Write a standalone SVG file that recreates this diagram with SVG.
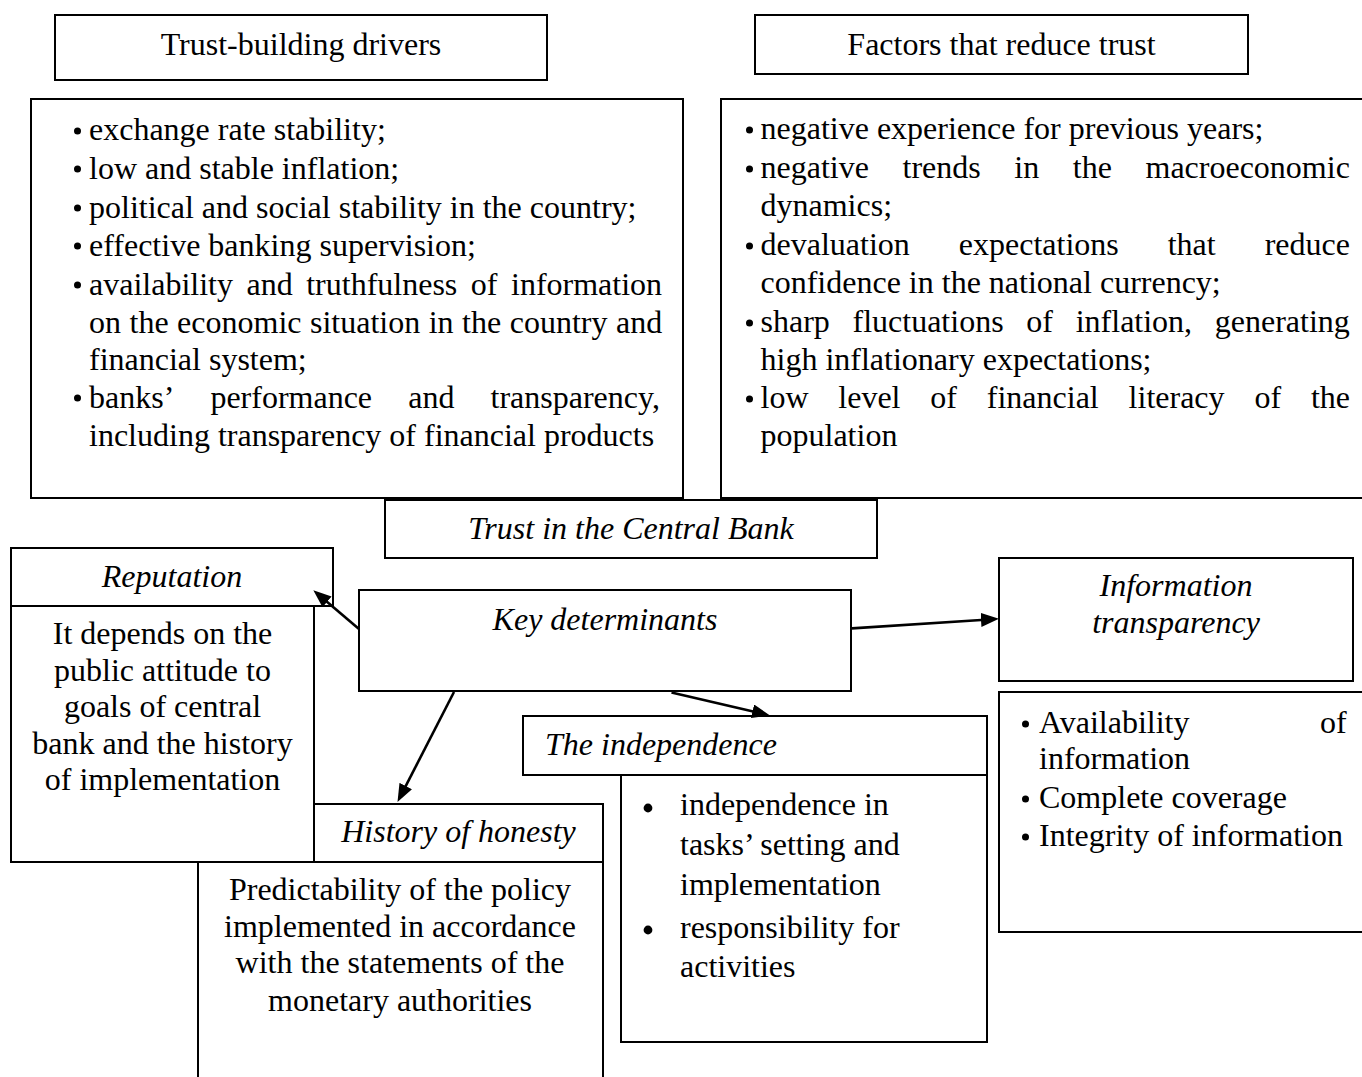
<svg xmlns="http://www.w3.org/2000/svg" width="1362" height="1077" viewBox="0 0 1362 1077">
  <style>
    .box { fill: #ffffff; stroke: #000000; stroke-width: 2; }
    .t { font-family: "Liberation Serif", "Times New Roman", serif; font-size: 32px; fill: #000000; }
    .i { font-style: italic; }
    .c { text-anchor: middle; }
    .b { fill: #000000; }
    .conn { stroke: #000000; stroke-width: 2.6; fill: none; marker-end: url(#arrow); }
  </style>
  <defs>
    <marker id="arrow" markerUnits="userSpaceOnUse" markerWidth="18" markerHeight="14" refX="4" refY="7" orient="auto">
      <path d="M0,0 L18,7 L0,14 z" fill="#000000"/>
    </marker>
  </defs>
  <rect x="0" y="0" width="1362" height="1077" fill="#ffffff"/>

  <g id="trust-building-drivers">
    <rect class="box" x="55" y="15" width="492" height="65"/>
    <text class="t c" x="301" y="55">Trust-building drivers</text>
  </g>

  <g id="drivers-list">
    <rect class="box" x="31" y="99" width="652" height="399"/>
    <circle class="b" cx="77.5" cy="131" r="3.5"/>
    <circle class="b" cx="77.5" cy="169" r="3.5"/>
    <circle class="b" cx="77.5" cy="208" r="3.5"/>
    <circle class="b" cx="77.5" cy="246" r="3.5"/>
    <circle class="b" cx="77.5" cy="285" r="3.5"/>
    <circle class="b" cx="77.5" cy="398" r="3.5"/>
    <text class="t" x="89" y="140">exchange rate stability;</text>
    <text class="t" x="89" y="179">low and stable inflation;</text>
    <text class="t" x="89" y="218">political and social stability in the country;</text>
    <text class="t" x="89" y="256">effective banking supervision;</text>
    <text class="t" y="295"><tspan x="89">availability</tspan><tspan x="246.5">and</tspan><tspan x="306.2">truthfulness</tspan><tspan x="470.8">of</tspan><tspan x="511">information</tspan></text>
    <text class="t" x="89" y="333" word-spacing="0.5">on the economic situation in the country and</text>
    <text class="t" x="89" y="370">financial system;</text>
    <text class="t" y="408"><tspan x="89">banks’</tspan><tspan x="210.4">performance</tspan><tspan x="408.2">and</tspan><tspan x="490.5">transparency,</tspan></text>
    <text class="t" x="89" y="446">including transparency of financial products</text>
  </g>

  <g id="factors-reduce-trust">
    <rect class="box" x="755" y="15" width="493" height="59"/>
    <text class="t c" x="1001.5" y="55">Factors that reduce trust</text>
  </g>

  <g id="factors-list">
    <rect class="box" x="721" y="99" width="660" height="399"/>
    <circle class="b" cx="749.5" cy="130" r="3.5"/>
    <circle class="b" cx="749.5" cy="169" r="3.5"/>
    <circle class="b" cx="749.5" cy="246" r="3.5"/>
    <circle class="b" cx="749.5" cy="323" r="3.5"/>
    <circle class="b" cx="749.5" cy="399" r="3.5"/>
    <text class="t" x="760.5" y="139">negative experience for previous years;</text>
    <text class="t" y="178"><tspan x="760.5">negative</tspan><tspan x="902.5">trends</tspan><tspan x="1014.3">in</tspan><tspan x="1072.8">the</tspan><tspan x="1145.5">macroeconomic</tspan></text>
    <text class="t" x="760.5" y="216">dynamics;</text>
    <text class="t" y="255"><tspan x="760.5">devaluation</tspan><tspan x="958.8">expectations</tspan><tspan x="1167.7">that</tspan><tspan x="1264.7">reduce</tspan></text>
    <text class="t" x="760.5" y="293">confidence in the national currency;</text>
    <text class="t" y="332"><tspan x="760.5">sharp</tspan><tspan x="852.5">fluctuations</tspan><tspan x="1026.3">of</tspan><tspan x="1075.7">inflation,</tspan><tspan x="1214.8">generating</tspan></text>
    <text class="t" x="760.5" y="370">high inflationary expectations;</text>
    <text class="t" y="408"><tspan x="760.5">low</tspan><tspan x="838.3">level</tspan><tspan x="930.3">of</tspan><tspan x="986.8">financial</tspan><tspan x="1128.6">literacy</tspan><tspan x="1254.4">of</tspan><tspan x="1310.9">the</tspan></text>
    <text class="t" x="760.5" y="446">population</text>
  </g>

  <g id="trust-in-central-bank">
    <rect class="box" x="385" y="500" width="492" height="58"/>
    <text class="t i c" x="631" y="539">Trust in the Central Bank</text>
  </g>

  <g id="reputation">
    <rect class="box" x="11" y="606" width="303" height="256"/>
    <rect class="box" x="11" y="548" width="322" height="58"/>
    <text class="t i c" x="172" y="587">Reputation</text>
    <text class="t c" x="162.5" y="644">It depends on the</text>
    <text class="t c" x="162.5" y="681">public attitude to</text>
    <text class="t c" x="162.5" y="717">goals of central</text>
    <text class="t c" x="162.5" y="754">bank and the history</text>
    <text class="t c" x="162.5" y="790">of implementation</text>
  </g>

  <g id="key-determinants">
    <rect class="box" x="359" y="590" width="492" height="101"/>
    <text class="t i c" x="605" y="630">Key determinants</text>
  </g>

  <g id="information-transparency">
    <rect class="box" x="999" y="558" width="354" height="123"/>
    <text class="t i c" x="1176" y="596">Information</text>
    <text class="t i c" x="1176" y="633">transparency</text>
  </g>

  <g id="information-list">
    <rect class="box" x="999" y="692" width="380" height="240"/>
    <circle class="b" cx="1025.5" cy="724" r="3.5"/>
    <circle class="b" cx="1025.5" cy="799" r="3.5"/>
    <circle class="b" cx="1025.5" cy="837" r="3.5"/>
    <text class="t" y="733"><tspan x="1039">Availability</tspan><tspan x="1320">of</tspan></text>
    <text class="t" x="1039" y="769">information</text>
    <text class="t" x="1039" y="808">Complete coverage</text>
    <text class="t" x="1039" y="846">Integrity of information</text>
  </g>

  <g id="independence">
    <rect class="box" x="621" y="775" width="366" height="267"/>
    <rect class="box" x="523" y="716" width="464" height="59"/>
    <text class="t i" x="545" y="755">The independence</text>
    <circle class="b" cx="648" cy="808" r="4.4"/>
    <circle class="b" cx="648" cy="930" r="4.4"/>
    <text class="t" x="680" y="815">independence in</text>
    <text class="t" x="680" y="855">tasks’ setting and</text>
    <text class="t" x="680" y="895">implementation</text>
    <text class="t" x="680" y="938">responsibility for</text>
    <text class="t" x="680" y="977">activities</text>
  </g>

  <g id="history-of-honesty">
    <rect class="box" x="198" y="862" width="405" height="230"/>
    <rect class="box" x="314" y="804" width="289" height="58"/>
    <text class="t i c" x="458.5" y="842">History of honesty</text>
    <text class="t c" x="400" y="900">Predictability of the policy</text>
    <text class="t c" x="400" y="937">implemented in accordance</text>
    <text class="t c" x="400" y="973">with the statements of the</text>
    <text class="t c" x="400" y="1011">monetary authorities</text>
  </g>

  <g id="connectors">
    <line class="conn" x1="359" y1="629" x2="324" y2="599.3"/>
    <line class="conn" x1="454" y1="692" x2="403.9" y2="789.6"/>
    <line class="conn" x1="671.5" y1="692.4" x2="756.4" y2="712.2"/>
    <line class="conn" x1="852" y1="628.4" x2="985" y2="619.7"/>
  </g>
</svg>
